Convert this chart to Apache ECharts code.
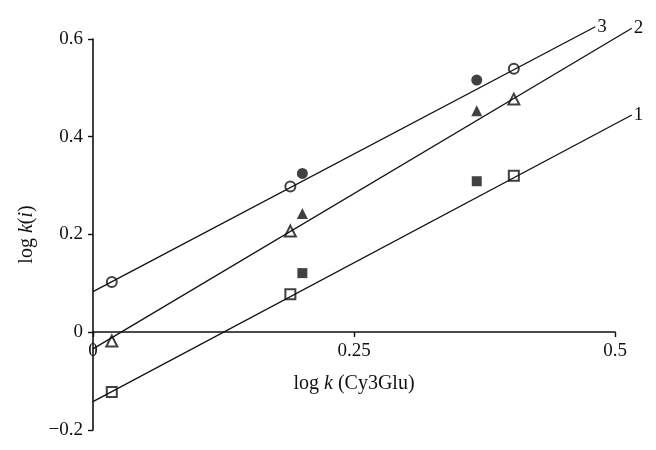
<!DOCTYPE html>
<html>
<head>
<meta charset="utf-8">
<script src="https://cdn.jsdelivr.net/npm/echarts@6/dist/echarts.min.js"></script>
<style>
  html, body { margin: 0; padding: 0; background: #fff; }
  #chart { width: 656px; height: 450px; }
</style>
</head>
<body>
<div id="chart"></div>
<script>
// x positions of the measured points
const xOpen = [0.018, 0.189, 0.403]
const xFilled = [0.2005, 0.3675]

// log k(i) values, open and filled markers
const open1 = [-0.122, 0.078, 0.320]
const filled1 = [0.121, 0.309]
const open2 = [-0.018, 0.207, 0.477]
const filled2 = [0.243, 0.453]
const open3 = [0.103, 0.298, 0.539]
const filled3 = [0.325, 0.516]

// regression line end points
const line1X = [0, 0.516]
const line1Y = [-0.142, 0.4445]
const line2X = [0, 0.516]
const line2Y = [-0.034, 0.622]
const line3X = [0, 0.481]
const line3Y = [0.083, 0.625]

const lineNames = ['1', '2', '3']
const xTicks = [0, 0.25, 0.5]
const yTicks = [-0.2, 0, 0.2, 0.4, 0.6]

const FONT = '"Liberation Serif", "DejaVu Serif", serif'
const INK = '#111'

const pairs = (xs, ys) => xs.map((x, i) => [x, ys[i]])

const lineSeries = (name, xs, ys) => ({
  name: name,
  type: 'line',
  data: pairs(xs, ys),
  symbol: 'none',
  clip: false,
  z: 3,
  lineStyle: { color: INK, width: 1.3 },
  endLabel: {
    show: true,
    formatter: name,
    distance: 2,
    color: INK,
    fontFamily: FONT,
    fontSize: 19
  },
  silent: true
})

const pointSeries = (xs, ys, symbol, size) => ({
  type: 'scatter',
  data: pairs(xs, ys),
  symbol: symbol,
  symbolSize: size,
  z: 2,
  itemStyle: { color: INK, borderWidth: 1.2 }
})

const chart = echarts.init(document.getElementById('chart'))

// grid 0 holds the data (x runs a little past 0.5 so the lines are not cut);
// grid 1 only carries the visible x axis, its bottom edge sits on y = 0 of grid 0
const option = {
  backgroundColor: '#fff',
  animation: false,
  grid: [
    { left: 93, right: 20, top: 39, bottom: 20, outerBoundsMode: 'none' },
    { left: 93, right: 41, top: 39, bottom: 118, outerBoundsMode: 'none' }
  ],
  xAxis: [
    {
      type: 'value',
      gridIndex: 0,
      min: 0,
      max: 0.52,
      show: false
    },
    {
      type: 'value',
      gridIndex: 1,
      min: xTicks[0],
      max: xTicks[xTicks.length - 1],
      interval: 0.25,
      splitLine: { show: false },
      axisLine: { onZero: false, lineStyle: { color: INK, width: 1.6 } },
      axisTick: { show: true, length: 5, lineStyle: { color: INK, width: 1.4 } },
      axisLabel: {
        margin: 10,
        color: INK,
        fontFamily: FONT,
        fontSize: 19,
        formatter: v => String(v)
      },
      name: 'log {i|k} (Cy3Glu)',
      nameLocation: 'middle',
      nameGap: 42,
      nameTextStyle: {
        color: INK,
        fontFamily: FONT,
        fontSize: 20,
        rich: { i: { fontStyle: 'italic', fontFamily: FONT, fontSize: 20, color: INK } }
      }
    }
  ],
  yAxis: [
    {
      type: 'value',
      gridIndex: 0,
      min: yTicks[0],
      max: yTicks[yTicks.length - 1],
      interval: 0.2,
      splitLine: { show: false },
      axisLine: { onZero: false, lineStyle: { color: INK, width: 1.6 } },
      axisTick: { show: true, length: 5, lineStyle: { color: INK, width: 1.4 } },
      axisLabel: {
        margin: 10,
        color: INK,
        fontFamily: FONT,
        fontSize: 19,
        formatter: v => {
          const s = String(Math.round(v * 10) / 10)
          return s.replace('-', '\u2212')
        }
      },
      name: 'log {i|k}({i|i})',
      nameLocation: 'middle',
      nameRotate: 90,
      nameGap: 56,
      nameTextStyle: {
        color: INK,
        fontFamily: FONT,
        fontSize: 20,
        rich: { i: { fontStyle: 'italic', fontFamily: FONT, fontSize: 20, color: INK } }
      }
    },
    {
      type: 'value',
      gridIndex: 1,
      min: 0,
      max: 1,
      show: false
    }
  ],
  series: [
    lineSeries(lineNames[0], line1X, line1Y),
    lineSeries(lineNames[1], line2X, line2Y),
    lineSeries(lineNames[2], line3X, line3Y),
    pointSeries(xOpen, open1, 'emptyRect', 10),
    pointSeries(xFilled, filled1, 'rect', 10),
    pointSeries(xOpen, open2, 'emptyTriangle', 11),
    pointSeries(xFilled, filled2, 'triangle', 11),
    pointSeries(xOpen, open3, 'emptyCircle', 10),
    pointSeries(xFilled, filled3, 'circle', 11)
  ]
}

chart.setOption(option)
</script>
</body>
</html>
